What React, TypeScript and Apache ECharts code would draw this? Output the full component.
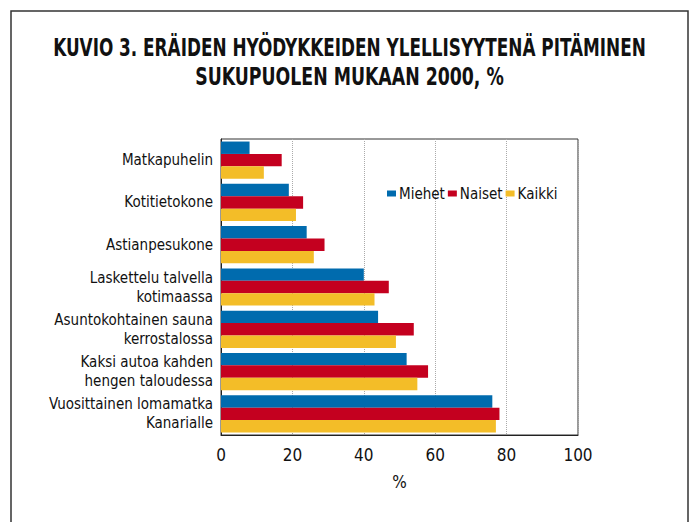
import React, { useEffect, useRef } from "react";
import * as echarts from "echarts";

const categories = [
  "Matkapuhelin",
  "Kotitietokone",
  "Astianpesukone",
  "Laskettelu talvella\nkotimaassa",
  "Asuntokohtainen sauna\nkerrostalossa",
  "Kaksi autoa kahden\nhengen taloudessa",
  "Vuosittainen lomamatka\nKanarialle",
];
const miehet = [8, 19, 24, 40, 44, 52, 76];
const naiset = [17, 23, 29, 47, 54, 58, 78];
const kaikki = [12, 21, 26, 43, 49, 55, 77];
const xTicks = [0, 20, 40, 60, 80, 100];
const titleLines = [
  "KUVIO 3. ERÄIDEN HYÖDYKKEIDEN YLELLISYYTENÄ PITÄMINEN",
  "SUKUPUOLEN MUKAAN 2000, %",
];
const titleScales = [0.75, 0.77];

const FONT = "'DejaVu Sans Condensed', 'Liberation Sans Narrow', sans-serif";
const COLORS = ["#006bae", "#c4001f", "#f3bd28"];

export default function App() {
  const ref = useRef<HTMLDivElement>(null);
  useEffect(() => {
    if (!ref.current) return;
    const chart = echarts.init(ref.current, undefined, { renderer: "svg" });
    chart.setOption({
      animation: false,
      backgroundColor: "#ffffff",
      color: COLORS,
      textStyle: { fontFamily: FONT },
      graphic: [
        {
          type: "rect",
          shape: { x: 11, y: 11, width: 677, height: 620 },
          style: { fill: "none", stroke: "#333", lineWidth: 1.5 },
          silent: true,
        },
        ...titleLines.map((t, i) => ({
          type: "text",
          x: 349.5,
          y: 47 + i * 29,
          scaleX: titleScales[i],
          style: {
            text: t,
            fontFamily: FONT,
            fontWeight: "bold",
            fontSize: 25,
            fill: "#111",
            align: "center",
            verticalAlign: "middle",
          },
        })),
      ],
      legend: {
        data: ["Miehet", "Naiset", "Kaikki"],
        left: 382,
        top: 181,
        itemWidth: 9,
        itemHeight: 6,
        itemGap: 3,
        icon: "rect",
        textStyle: { fontFamily: FONT, fontSize: 15, color: "#111", padding: [0, 0, 0, -2] },
      },
      grid: {
        left: 221,
        right: 115,
        top: 139,
        bottom: 87,
        show: true,
        borderColor: "#333",
        borderWidth: 1,
        containLabel: false,
      },
      xAxis: {
        type: "value",
        min: 0,
        max: 100,
        interval: 20,
        name: "%",
        nameLocation: "middle",
        nameGap: 38,
        nameTextStyle: { fontFamily: FONT, fontSize: 17, color: "#111" },
        axisLine: { show: true, lineStyle: { color: "#222", width: 1 } },
        axisTick: { show: false },
        axisLabel: {
          fontFamily: FONT,
          fontSize: 17,
          color: "#111",
          margin: 11,
          formatter: (v: number) => (xTicks.includes(v) ? String(v) : ""),
        },
        splitLine: { show: true, lineStyle: { color: "#aaa", type: "dotted", width: 1 } },
      },
      yAxis: {
        type: "category",
        data: categories,
        inverse: true,
        axisLine: { show: true, lineStyle: { color: "#222", width: 1 } },
        axisTick: { show: false },
        axisLabel: {
          fontFamily: FONT,
          fontSize: 15,
          color: "#111",
          margin: 8,
          lineHeight: 19,
          align: "right",
        },
      },
      series: [
        { name: "Miehet", type: "bar", data: miehet, barGap: "0%", barCategoryGap: "12%" },
        { name: "Naiset", type: "bar", data: naiset, barGap: "0%", barCategoryGap: "12%" },
        { name: "Kaikki", type: "bar", data: kaikki, barGap: "0%", barCategoryGap: "12%" },
      ],
    });
    return () => chart.dispose();
  }, []);
  return (
    <div
      ref={ref}
      style={{ position: "absolute", left: 0, top: 0, width: 693, height: 522 }}
    />
  );
}
